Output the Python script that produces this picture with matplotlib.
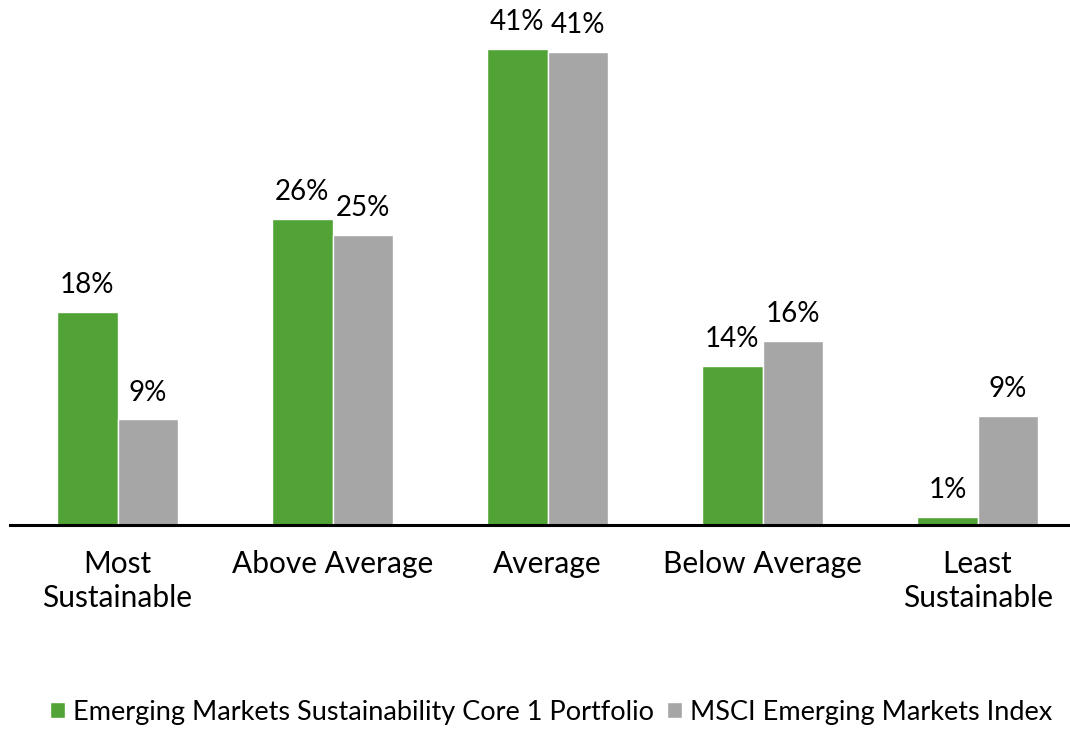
import numpy as np
import matplotlib.pyplot as plt

plt.rcParams['font.family'] = ['Lato', 'DejaVu Sans']

categories = ['Most\nSustainable', 'Above Average', 'Average', 'Below Average', 'Least\nSustainable']
portfolio = [18.4, 26.4, 41.0, 13.7, 0.7]
index_vals = [9.1, 25.0, 40.8, 15.9, 9.4]
series_names = ['Emerging Markets Sustainability Core 1 Portfolio', 'MSCI Emerging Markets Index']

green = '#52A336'
grey = '#A6A6A6'

fig = plt.figure(figsize=(10.7, 7.3), dpi=100)
ax = fig.add_axes([10 / 1070, 205 / 730, 1 - 10 / 1070, 0.996 - 205 / 730])

x = np.arange(len(categories))
w = 0.28
b1 = ax.bar(x - w / 2, portfolio, w, color=green, edgecolor='white', linewidth=1, label=series_names[0])
b2 = ax.bar(x + w / 2, index_vals, w, color=grey, edgecolor='white', linewidth=1, label=series_names[1])

for bars, vals in [(b1, portfolio), (b2, index_vals)]:
    for rect, v in zip(bars, vals):
        ax.annotate(f'{round(v)}%', (rect.get_x() + rect.get_width() / 2, rect.get_height()),
                    xytext=(0, 10), textcoords='offset points', ha='center', va='bottom', fontsize=20)

ax.set_xlim(-0.5, 4.43)
ax.set_ylim(0, 45)
ax.set_xticks(x)
ax.set_xticklabels(categories, fontsize=21.5, linespacing=1.25)
ax.tick_params(axis='x', length=0, pad=18)
ax.set_yticks([])
for s in ['top', 'right', 'left']:
    ax.spines[s].set_visible(False)
ax.spines['bottom'].set_linewidth(2.2)

fig.legend(loc='lower center', bbox_to_anchor=(0.515, -0.026), ncol=2, frameon=False, fontsize=19.5,
           handlelength=0.55, handleheight=0.55, handletextpad=0.3, columnspacing=0.5)

fig.savefig('out.png', dpi=100)
